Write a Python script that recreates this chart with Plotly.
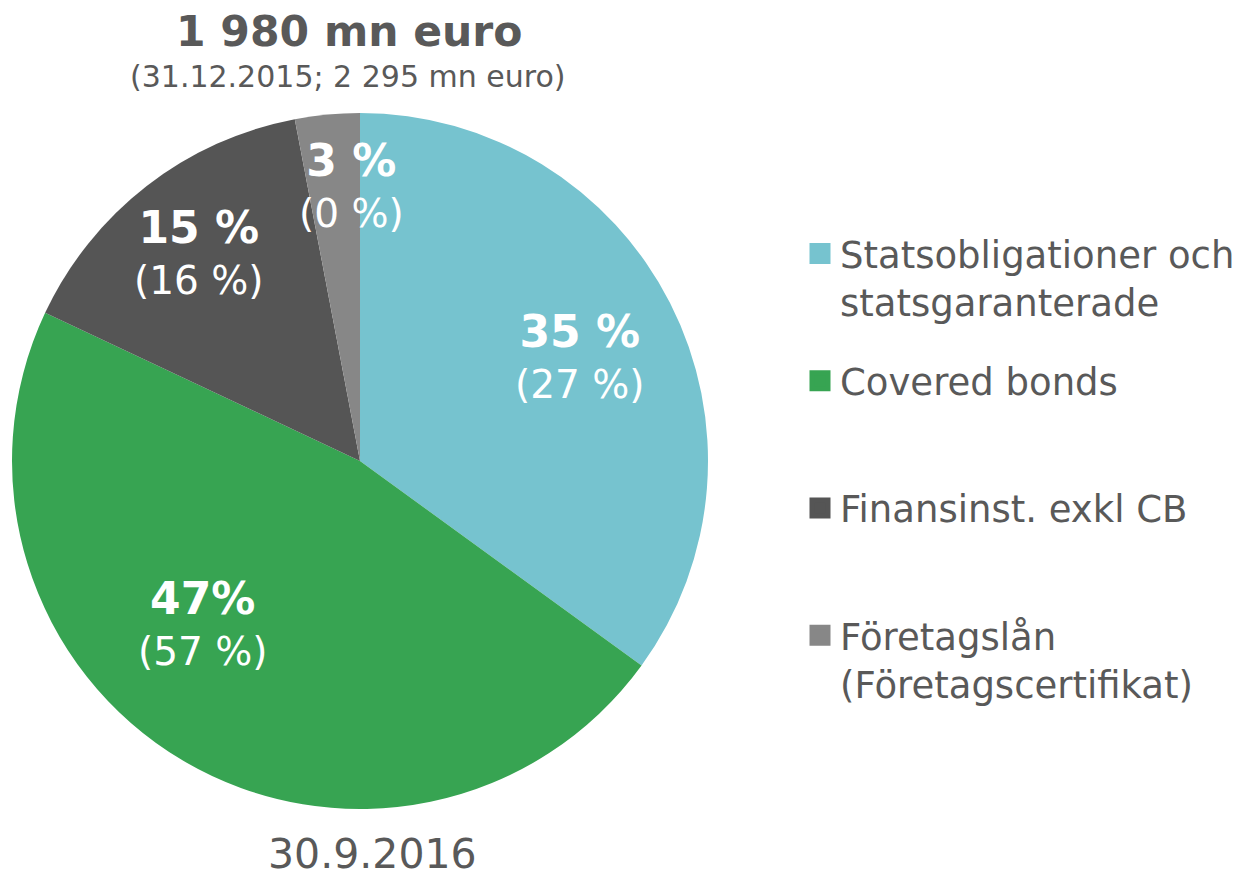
import math
import plotly.graph_objects as go

# ---- data ----
categories = ["Statsobligationer och<br>statsgaranterade", "Covered bonds",
              "Finansinst. exkl CB", "Företagslån<br>(Företagscertifikat)"]
values_2016 = [35, 47, 15, 3]
labels_2016 = ["35 %", "47%", "15 %", "3 %"]
labels_2015 = ["(27 %)", "(57 %)", "(16 %)", "(0 %)"]
title_text = "1 980 mn euro"
subtitle_text = "(31.12.2015; 2 295 mn euro)"
date_text = "30.9.2016"

# ---- style ----
colors = ["#76C3CF", "#37A452", "#555555", "#878787"]
text_color = "#595959"
FONT = "Verdana, DejaVu Sans, sans-serif"
OFF = 8                      # page body margin in the browser
W, H = 1241 - OFF, 876 - OFF
# pie geometry (page pixels)
cx, cy, R = 360 - OFF, 461 - OFF, 348
label_rfrac = [0.70, 0.65, 0.757, 0.793]
label_shift_deg = [1.5, 13.3, 0.0, 3.7]


def px(x):
    return (x - OFF) / W


def py(y):
    return 1 - (y - OFF) / H


fig = go.Figure()
fig.add_trace(go.Pie(
    labels=categories, values=values_2016, sort=False, direction="clockwise",
    rotation=0, marker=dict(colors=colors, line=dict(width=0)),
    textinfo="none", hoverinfo="label+percent", showlegend=False,
    domain=dict(x=[(cx - R) / W, (cx + R) / W], y=[1 - (cy + R) / H, 1 - (cy - R) / H]),
))

# legend entries (squares)
for i, (cat, col) in enumerate(zip(categories, colors)):
    name = cat if "<br>" in cat else cat + "<br> "
    fig.add_trace(go.Scatter(
        x=[None], y=[None], mode="markers", name=name, legendgroup=str(i),
        marker=dict(symbol="square", size=16, color=col, line=dict(color=col, width=5)),
        hoverinfo="skip",
    ))

# slice labels
total = sum(values_2016)
cum = 0
annotations = []
for i, v in enumerate(values_2016):
    mid = (cum + v / 2) / total * 360 + label_shift_deg[i]
    cum += v
    th = math.radians(mid)
    lx = cx + label_rfrac[i] * R * math.sin(th)
    ly = cy - label_rfrac[i] * R * math.cos(th)
    annotations.append(dict(
        x=lx / W, y=1 - ly / H, xref="paper", yref="paper", showarrow=False,
        xanchor="center", yanchor="middle", align="center",
        text=f"<span style='font-size:44px'><b>{labels_2016[i]}</b></span><br>{labels_2015[i]}",
        font=dict(family=FONT, size=39, color="white"),
    ))

annotations += [
    dict(x=px(349), y=py(32), xref="paper", yref="paper", showarrow=False,
         xanchor="center", yanchor="middle", text=f"<b>{title_text}</b>",
         font=dict(family=FONT, size=42.5, color=text_color)),
    dict(x=px(348), y=py(76), xref="paper", yref="paper", showarrow=False,
         xanchor="center", yanchor="middle", text=subtitle_text,
         font=dict(family=FONT, size=30, color=text_color)),
    dict(x=px(372), y=py(854), xref="paper", yref="paper", showarrow=False,
         xanchor="center", yanchor="middle", text=date_text,
         font=dict(family=FONT, size=41, color=text_color)),
]

fig.update_layout(
    width=W, height=H, margin=dict(l=0, r=0, t=0, b=0),
    paper_bgcolor="white", plot_bgcolor="white",
    xaxis=dict(visible=False), yaxis=dict(visible=False),
    annotations=annotations,
    showlegend=True,
    legend=dict(x=px(800), y=py(223), xanchor="left", yanchor="top",
                valign="top", tracegroupgap=28, itemclick=False,
                font=dict(family=FONT, size=37, color=text_color),
                bgcolor="rgba(0,0,0,0)"),
)
fig.write_html("out.html")
